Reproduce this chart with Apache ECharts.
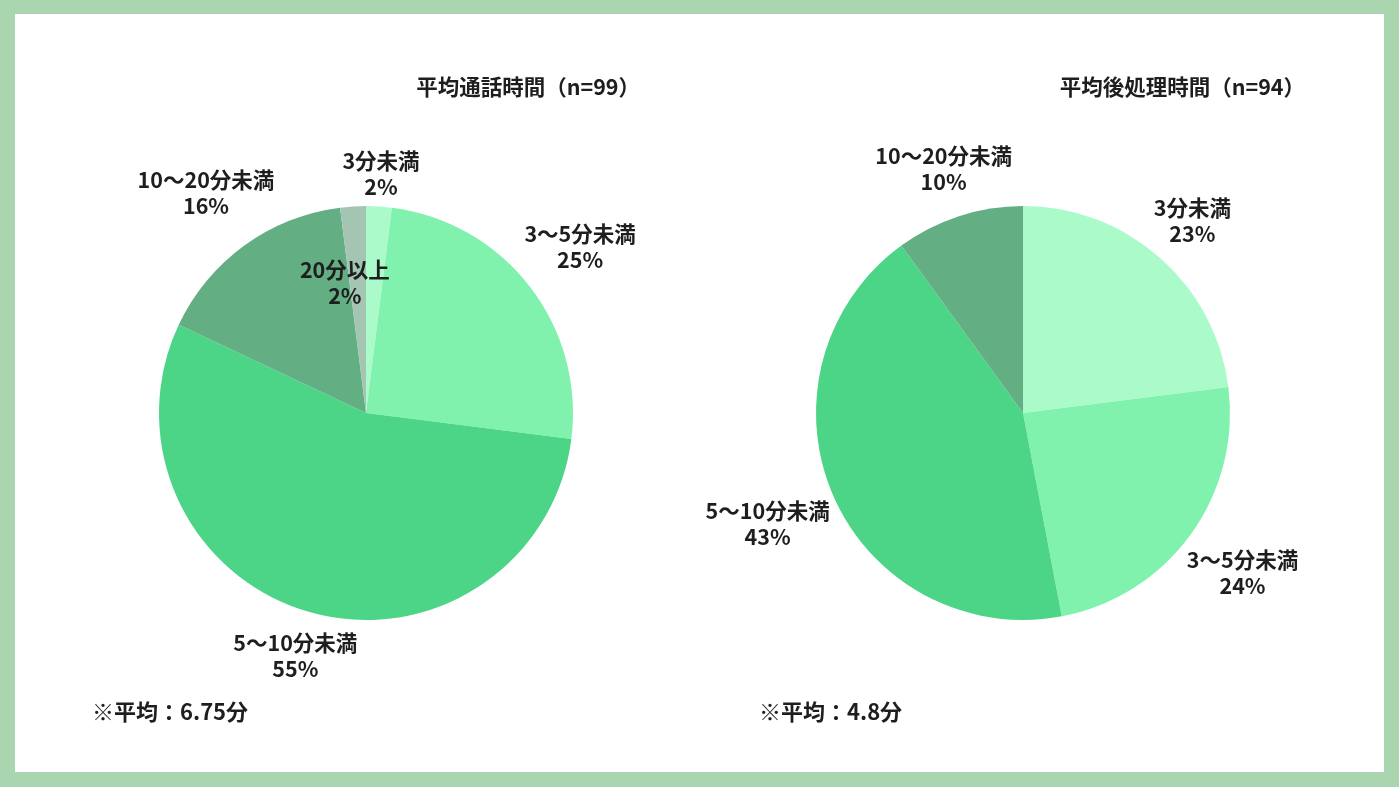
<!DOCTYPE html>
<html>
<head>
<meta charset="utf-8">
<script src="https://cdn.jsdelivr.net/npm/echarts@6/dist/echarts.min.js"></script>
<style>
  html, body { margin: 0; padding: 0; background: #a9d6ae; }
  #main { position: absolute; left: 15px; top: 14px; width: 1369px; height: 758px; background: #ffffff; }
</style>
</head>
<body>
<div id="main"></div>
<script>
// 平均通話時間
var callNames = ['3分未満', '3～5分未満', '5～10分未満', '10～20分未満', '20分以上'];
var callValues = [2, 25, 55, 16, 2];
// 平均後処理時間
var afterNames = ['3分未満', '3～5分未満', '5～10分未満', '10～20分未満'];
var afterValues = [23, 24, 43, 10];

var sliceColors = ['#abfbca', '#80f2ae', '#4cd586', '#63af83', '#a3c5b1'];

var FONT = '"Noto Sans CJK JP", "Noto Sans", sans-serif';
var R = 207;
var leftCenter = [351, 399];
var rightCenter = [1008, 399];

var myChart = echarts.init(document.getElementById('main'));

function toData(names, values) {
    return names.map(function (n, i) {
        return { name: n, value: values[i], itemStyle: { color: sliceColors[i] } };
    });
}

// put each label just outside its slice, centred on the mid angle
function labelPlacer(values, center) {
    var total = values.reduce(function (a, b) { return a + b; }, 0);
    return function (params) {
        var i = params.dataIndex;
        var before = 0;
        for (var k = 0; k < i; k++) before += values[k];
        var ang = (before + values[i] / 2) / total * Math.PI * 2;
        var dx = Math.sin(ang), dy = -Math.cos(ang);
        var w = params.labelRect.width, h = params.labelRect.height;
        var d = R + 4 + Math.abs(dx) * w / 2 + Math.abs(dy) * h / 2;
        var x = center[0] + dx * d, y = center[1] + dy * d;
        if (params.text.indexOf('20分以上') === 0) {
            // this one sits inside the pie in the original
            x = center[0] + dx * 130 - 13;
            y = center[1] + dy * 130;
        }
        return { x: x, y: y, align: 'center', verticalAlign: 'middle', hideOverlap: false, moveOverlap: null };
    };
}

function pieSeries(names, values, center) {
    return {
        type: 'pie',
        center: center,
        radius: R,
        startAngle: 90,
        clockwise: true,
        silent: true,
        avoidLabelOverlap: false,
        itemStyle: { borderWidth: 0 },
        label: {
            show: true,
            position: 'outside',
            formatter: '{b}\n{c}%',
            fontFamily: FONT,
            fontSize: 21.5,
            fontWeight: 'bold',
            lineHeight: 26,
            color: '#1e1e1e',
            align: 'center'
        },
        labelLine: { show: false },
        labelLayout: labelPlacer(values, center),
        data: toData(names, values)
    };
}

var titleStyle = { fontFamily: FONT, fontSize: 21.5, fontWeight: 'bold', color: '#1e1e1e' };
var noteStyle = { fontFamily: FONT, fontSize: 22, fontWeight: 'bold', color: '#1e1e1e' };

var option = {
    animation: false,
    title: [
        { text: '平均通話時間（n=99）', right: 739, top: 57, textStyle: titleStyle },
        { text: '平均後処理時間（n=94）', right: 74, top: 57, textStyle: titleStyle },
        { text: '※平均：6.75分', left: 72, top: 682, textStyle: noteStyle },
        { text: '※平均：4.8分', left: 739, top: 682, textStyle: noteStyle }
    ],
    series: [
        pieSeries(callNames, callValues, leftCenter),
        pieSeries(afterNames, afterValues, rightCenter)
    ]
};

myChart.setOption(option);
</script>
</body>
</html>
